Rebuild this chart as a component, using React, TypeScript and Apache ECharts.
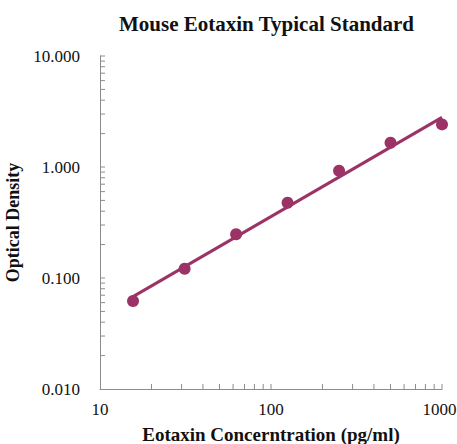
import React, { useEffect, useRef } from "react";
import * as echarts from "echarts";

const concentrations = [15.6, 31.25, 62.5, 125, 250, 500, 1000];
const opticalDensity = [0.062, 0.121, 0.248, 0.477, 0.926, 1.655, 2.42];
const trendX = [15.6, 1000];
const trendY = [0.068, 2.8];
const xTickValues = [20, 30, 40, 50, 60, 70, 80, 90, 100, 200, 300, 400, 500, 600, 700, 800, 900, 1000];
const yTickValues = [0.02, 0.03, 0.04, 0.05, 0.06, 0.07, 0.08, 0.09, 0.1, 0.2, 0.3, 0.4, 0.5, 0.6, 0.7, 0.8, 0.9, 1, 2, 3, 4, 5, 6, 7, 8, 9, 10];

const COLOR = "#9b3366";
const AXIS = "#8c8c8c";
const FONT = "Liberation Serif";

export default function App() {
  const ref = useRef<HTMLDivElement>(null);
  useEffect(() => {
    const chart = echarts.init(ref.current!, null, { renderer: "svg" });
    chart.setOption({
      animation: false,
      backgroundColor: "#fff",
      title: {
        text: "Mouse Eotaxin Typical Standard",
        left: 114,
        top: 8,
        textStyle: { fontFamily: FONT, fontSize: 21, fontWeight: "bold", color: "#111" },
      },
      grid: { left: 100, right: 15, top: 56, bottom: 55, outerBoundsMode: "none", containLabel: false },
      xAxis: {
        type: "log",
        logBase: 10,
        min: 10,
        max: 1000,
        name: "Eotaxin Concerntration (pg/ml)",
        nameLocation: "middle",
        nameGap: 36,
        nameTextStyle: { fontFamily: FONT, fontSize: 19, fontWeight: "bold", color: "#111" },
        axisLine: { lineStyle: { color: AXIS, width: 1 } },
        axisTick: { show: false },
        splitLine: { show: false },
        axisLabel: {
          fontFamily: FONT,
          fontSize: 17,
          color: "#111",
          margin: 12,
          formatter: (v: number) => {
            const s = String(Math.round(v));
            return Math.round(v) === 1000 ? "{r|" + s + "}" : s;
          },
          rich: {
            r: { fontFamily: FONT, fontSize: 17, color: "#111", padding: [0, 5, 0, 0] },
          },
        },
      },
      yAxis: {
        type: "log",
        logBase: 10,
        min: 0.01,
        max: 10,
        name: "Optical Density",
        nameLocation: "middle",
        nameGap: 72,
        nameTextStyle: { fontFamily: FONT, fontSize: 18, fontWeight: "bold", color: "#111" },
        axisLine: { show: true, lineStyle: { color: AXIS, width: 1 } },
        axisTick: { show: false },
        splitLine: { show: false },
        axisLabel: {
          fontFamily: FONT,
          fontSize: 17,
          color: "#111",
          margin: 20,
          formatter: (v: number) => v.toFixed(3),
        },
      },
      series: [
        {
          type: "custom",
          silent: true,
          clip: false,
          data: xTickValues.map((v) => [v, 0.01]),
          renderItem: (_p: any, api: any) => {
            const pt = api.coord([api.value(0), api.value(1)]);
            return {
              type: "line",
              shape: { x1: pt[0], y1: pt[1], x2: pt[0], y2: pt[1] - 5 },
              style: { stroke: AXIS, lineWidth: 1 },
            };
          },
        },
        {
          type: "custom",
          silent: true,
          clip: false,
          data: yTickValues.map((v) => [10, v]),
          renderItem: (_p: any, api: any) => {
            const pt = api.coord([api.value(0), api.value(1)]);
            return {
              type: "line",
              shape: { x1: pt[0], y1: pt[1], x2: pt[0] + 5, y2: pt[1] },
              style: { stroke: AXIS, lineWidth: 1 },
            };
          },
        },
        {
          type: "line",
          data: trendX.map((x, i) => [x, trendY[i]]),
          showSymbol: false,
          symbol: "none",
          lineStyle: { color: COLOR, width: 3 },
          silent: true,
        },
        {
          type: "scatter",
          data: concentrations.map((x, i) => [x, opticalDensity[i]]),
          symbol: "circle",
          symbolSize: 12,
          itemStyle: { color: COLOR, opacity: 1 },
        },
      ],
    });
    return () => chart.dispose();
  }, []);
  return (
    <div
      ref={ref}
      style={{ position: "fixed", left: 0, top: 0, width: 457, height: 444 }}
    />
  );
}
